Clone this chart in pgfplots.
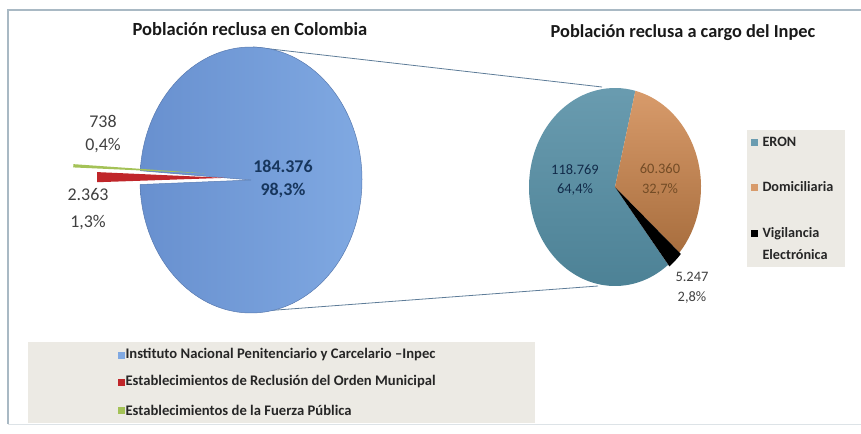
\documentclass[border=0pt]{standalone}
\usepackage{fontspec}
\setmainfont{Carlito}
\usepackage{pgfplots}
\usepackage{pgfplotstable}
\pgfplotsset{compat=1.18}

\definecolor{inpecblue}{HTML}{80A9E2}
\definecolor{inpecbluedark}{HTML}{6890CF}
\definecolor{munred}{HTML}{C0262A}
\definecolor{fpgreen}{HTML}{A4C257}
\definecolor{eronteal}{HTML}{4B8094}
\definecolor{eronlight}{HTML}{6A9CB0}
\definecolor{domlight}{HTML}{D89B6B}
\definecolor{domdark}{HTML}{A86E3E}
\definecolor{legbg}{HTML}{ECEAE4}
\definecolor{framecol}{HTML}{A9B9C4}
\definecolor{linkcol}{HTML}{5E7C98}
\definecolor{labgray}{HTML}{404040}
\definecolor{navy}{HTML}{17365D}

% poblacion reclusa en Colombia
\pgfplotstableread{
grupo valor
Inpec 184376
Municipal 2363
FuerzaPublica 738
}\colombia

% poblacion a cargo del Inpec
\pgfplotstableread{
grupo valor
ERON 118769
Domiciliaria 60360
Vigilancia 5247
}\inpec

\pgfplotstablegetelem{0}{valor}\of\colombia\let\vA\pgfplotsretval
\pgfplotstablegetelem{1}{valor}\of\colombia\let\vB\pgfplotsretval
\pgfplotstablegetelem{2}{valor}\of\colombia\let\vC\pgfplotsretval
\pgfplotstablegetelem{0}{valor}\of\inpec\let\wA\pgfplotsretval
\pgfplotstablegetelem{1}{valor}\of\inpec\let\wB\pgfplotsretval
\pgfplotstablegetelem{2}{valor}\of\inpec\let\wC\pgfplotsretval
% big pie angles (clockwise from 176)
\edef\bA{\fpeval{176-360*\vA/(\vA+\vB+\vC)}}
\edef\bB{\fpeval{\bA-360*\vB/(\vA+\vB+\vC)}}
\edef\bC{\fpeval{176-360}}
\edef\mB{\fpeval{(\bA+\bB)/2}}
\edef\mC{\fpeval{(\bB+\bC)/2}}
% exploded slices: apex and outer corners (thin, so straight edges)
\edef\rAx{\fpeval{251+26*cosd(\mB)}}\edef\rAy{\fpeval{256+26*sind(\mB)}}
\edef\rPx{\fpeval{\rAx+128*cosd(\bA)}}\edef\rPy{\fpeval{\rAy+128*sind(\bA)}}
\edef\rQx{\fpeval{\rAx+128*cosd(\bB)}}\edef\rQy{\fpeval{\rAy+128*sind(\bB)}}
\edef\gAx{\fpeval{251+46*cosd(\mC)}}\edef\gAy{\fpeval{258+46*sind(\mC)}}
\edef\gPx{\fpeval{\gAx+132*cosd(\bB)}}\edef\gPy{\fpeval{\gAy+132*sind(\bB)}}
\edef\gQx{\fpeval{\gAx+132*cosd(\bC)}}\edef\gQy{\fpeval{\gAy+132*sind(\bC)}}
% small pie angles (clockwise from 308.2)
\edef\sA{\fpeval{308.2-360*\wA/(\wA+\wB+\wC)}}
\edef\sB{\fpeval{\sA-360*\wB/(\wA+\wB+\wC)}}
\edef\sC{\fpeval{308.2-360}}

\begin{document}
\begin{tikzpicture}
\begin{axis}[x=1bp,y=1bp,xmin=0,xmax=861,ymin=0,ymax=434,hide axis,clip=false,
  anchor=origin,at={(0,0)}]
% frame
\draw[framecol,line width=1.5bp] (axis cs:861,424) -- (axis cs:8,424) -- (axis cs:8,10);
\draw[framecol!40,line width=1bp] (axis cs:8,10) -- (axis cs:861,10);

% connector lines
\draw[linkcol,line width=0.8bp] (axis cs:253,387) -- (axis cs:602,347);
\draw[linkcol,line width=0.8bp] (axis cs:250,122) -- (axis cs:598,148);

% big pie
\shadedraw[left color=inpecbluedark,right color=inpecblue,draw=inpecbluedark!85!black,line width=0.5bp]
  (axis cs:251,254) -- ++(176:111bp and 133bp)
  arc[start angle=176,end angle=\bA,x radius=111bp,y radius=133bp] -- cycle;
\fill[munred] (axis cs:\rAx,\rAy) -- (axis cs:\rPx,\rPy) -- (axis cs:\rQx,\rQy) -- cycle;
\fill[fpgreen] (axis cs:\gAx,\gAy) -- (axis cs:\gPx,\gPy) -- (axis cs:\gQx,\gQy) -- cycle;

% small pie
\shade[top color=eronlight,bottom color=eronteal]
  (axis cs:615,247) -- ++(308.2:86bp and 99bp)
  arc[start angle=308.2,end angle=\sA,x radius=86bp,y radius=99bp] -- cycle;
\shade[top color=domlight,bottom color=domdark]
  (axis cs:615,247) -- ++(\sA:86bp and 99bp)
  arc[start angle=\sA,end angle=\sB,x radius=86bp,y radius=99bp] -- cycle;
\fill[black]
  (axis cs:615,247) -- ++(\sB:88bp and 101bp)
  arc[start angle=\sB,end angle=\sC,x radius=88bp,y radius=101bp] -- cycle;

% titles
\node[font=\fontsize{18.6}{22}\selectfont\bfseries,text=black!90] at (axis cs:250,405) {Población reclusa en Colombia};
\node[font=\fontsize{18.4}{22}\selectfont\bfseries,text=black!90] at (axis cs:683,401) {Población reclusa a cargo del Inpec};

% data labels
\node[font=\fontsize{18}{23}\selectfont,text=labgray,align=center] at (axis cs:103,300) {738\\0,4\%};
\node[font=\fontsize{18}{27}\selectfont,text=labgray,align=center] at (axis cs:88,225) {2.363\\1,3\%};
\node[font=\fontsize{18}{23}\selectfont\bfseries,text=navy,align=center] at (axis cs:283,255) {184.376\\98,3\%};
\node[font=\fontsize{14.5}{20}\selectfont,text=navy!80!black,align=center] at (axis cs:575,254) {118.769\\64,4\%};
\node[font=\fontsize{14.5}{20}\selectfont,text=brown!60!black,align=center] at (axis cs:660,254) {60.360\\32,7\%};
\node[font=\fontsize{14.5}{20}\selectfont,text=labgray,align=center] at (axis cs:692,146) {5.247\\2,8\%};

% right legend
\fill[legbg] (axis cs:747,167) rectangle (axis cs:845,304);
\fill[eronlight] (axis cs:751,288) rectangle ++(7bp,7bp);
\fill[domlight] (axis cs:751,243) rectangle ++(7bp,7bp);
\fill[black] (axis cs:751,197) rectangle ++(7bp,7bp);
\begin{scope}[every node/.style={font=\fontsize{14.3}{22}\selectfont\bfseries,text=black!85,anchor=west}]
\node at (axis cs:759,292) {ERON};
\node at (axis cs:759,247) {Domiciliaria};
\node[align=left] at (axis cs:759,190) {Vigilancia\\ Electrónica};
\end{scope}

% bottom legend
\fill[legbg] (axis cs:28,11) rectangle (axis cs:535,92);
\fill[inpecblue] (axis cs:118,75) rectangle ++(7bp,7bp);
\fill[munred] (axis cs:118,48) rectangle ++(7bp,7bp);
\fill[fpgreen] (axis cs:118,20) rectangle ++(7bp,7bp);
\begin{scope}[every node/.style={font=\fontsize{14.7}{18}\selectfont\bfseries,text=black!85,anchor=west}]
\node at (axis cs:122,79) {Instituto Nacional Penitenciario y Carcelario –Inpec};
\node at (axis cs:122,52) {Establecimientos de Reclusión del Orden Municipal};
\node at (axis cs:122,24) {Establecimientos de la Fuerza Pública};
\end{scope}
\end{axis}
\pgfresetboundingbox
\path (0,0) rectangle (861bp,434bp);
\end{tikzpicture}
\end{document}
